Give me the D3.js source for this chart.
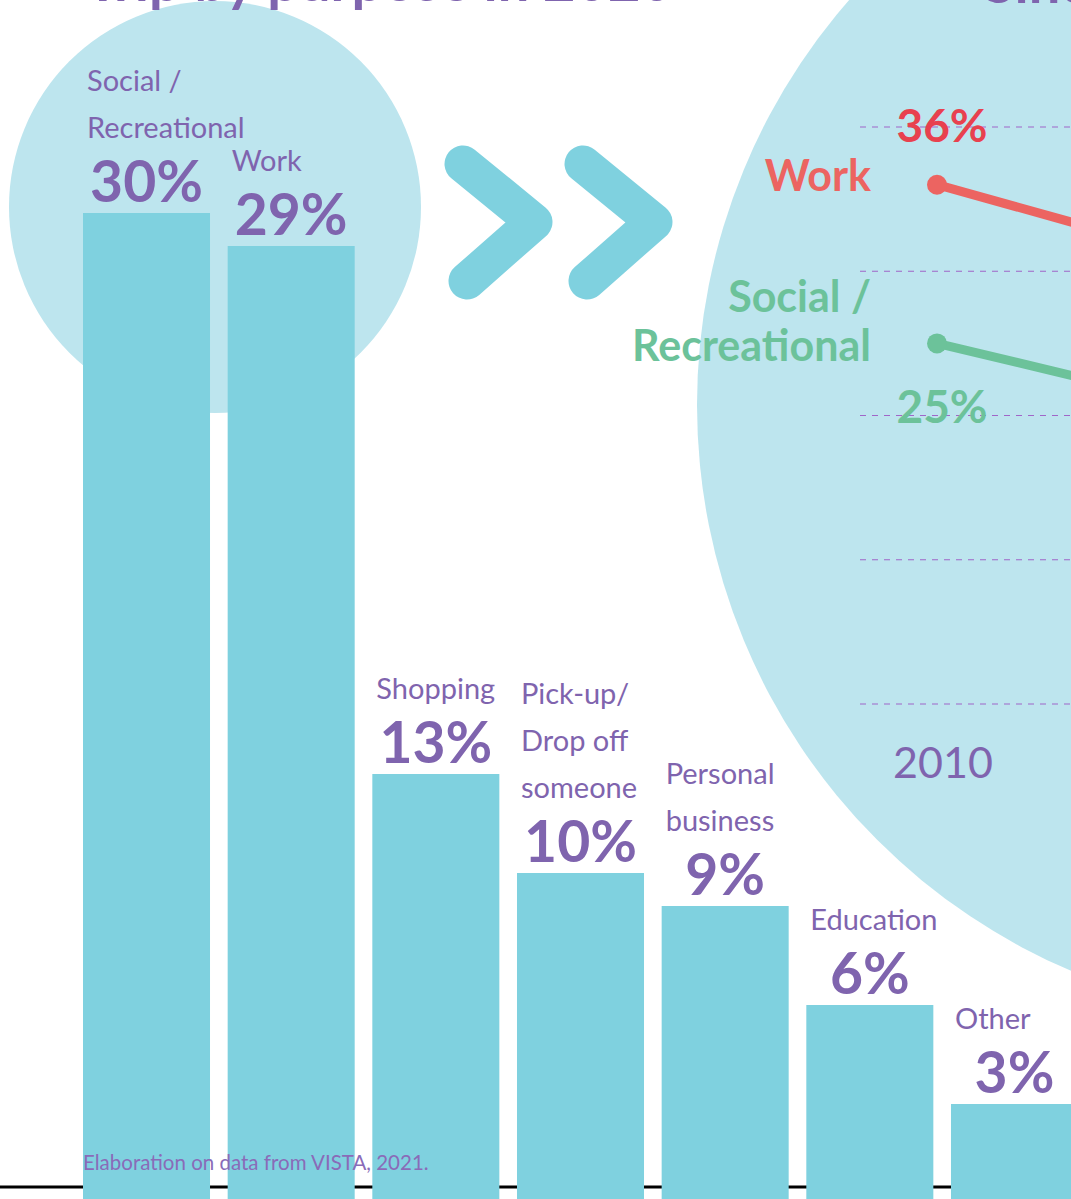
<!DOCTYPE html>
<html>
<head>
<meta charset="utf-8">
<script src="https://cdn.jsdelivr.net/npm/d3@7"></script>
<style>
  html, body { margin: 0; padding: 0; background: #fff; }
  svg { display: block; font-family: Lato, "Open Sans", sans-serif; }
</style>
</head>
<body>
<div id="chart-container"></div>
<script>
'use strict';

// trip share by purpose, 2020
const categories = ['Social / Recreational', 'Work', 'Shopping', 'Pick-up/ Drop off someone',
  'Personal business', 'Education', 'Other'];
const categoryLines = [['Social /', 'Recreational'], ['Work'], ['Shopping'],
  ['Pick-up/', 'Drop off', 'someone'], ['Personal', 'business'], ['Education'], ['Other']];
const shares = [30, 29, 13, 10, 9, 6, 3];

// change since 2010 (only the 2010 end is visible)
const years = [2010, 2020];
const trendNames = [['Work'], ['Social /', 'Recreational']];
const workTrend = [36, 29];
const socialTrend = [25, 19];
const gridTicks = [40, 30, 20, 10, 0];

const titleLeft = 'Trip by purpose in 2020';
const titleRight = 'Since 2010';
const source = 'Elaboration on data from VISTA, 2021.';

var width = 1071;
var height = 1199;
var purple = '#7f64ae';
var barColour = '#7fd1df';
var circleColour = '#bde5ee';
var red = '#ec6461';
var green = '#6cc29a';

var svg = d3.select('#chart-container')
  .append('svg')
  .attr('width', width)
  .attr('height', height);

// background circles
svg.append('circle').attr('cx', 215).attr('cy', 207).attr('r', 206).attr('fill', circleColour);
svg.append('circle').attr('cx', 1312).attr('cy', 405).attr('r', 615).attr('fill', circleColour);

// titles (mostly cut off at the top, as in the original)
svg.append('text').attr('x', 86).attr('y', 1)
  .attr('font-size', 56).attr('font-weight', 700).attr('fill', purple)
  .text(titleLeft);
svg.append('text').attr('x', 984).attr('y', 3)
  .attr('font-size', 56).attr('font-weight', 700).attr('fill', purple)
  .text(titleRight);

// ---- bar chart ----
var x = d3.scaleBand()
  .domain(categories)
  .range([83, 1078])
  .paddingInner(0.122)
  .paddingOuter(0);

var y = d3.scaleLinear()
  .domain([0, 30])
  .range([1203, 213]);

svg.append('line')
  .attr('x1', 0).attr('x2', width)
  .attr('y1', 1187).attr('y2', 1187)
  .attr('stroke', '#000').attr('stroke-width', 3);

var bars = svg.selectAll('g.bar')
  .data(categories.map((c, i) => ({ name: c, lines: categoryLines[i], value: shares[i] })))
  .enter()
  .append('g')
  .attr('class', 'bar');

bars.append('rect')
  .attr('x', d => x(d.name))
  .attr('y', d => y(d.value))
  .attr('width', x.bandwidth())
  .attr('height', d => height - y(d.value))
  .attr('fill', barColour);

bars.append('text')
  .attr('x', d => x(d.name) + x.bandwidth() / 2)
  .attr('y', d => y(d.value) - 11)
  .attr('text-anchor', 'middle')
  .attr('font-size', 57)
  .attr('font-weight', 700)
  .attr('fill', purple)
  .text(d => d.value + '%');

bars.each(function(d) {
  var n = d.lines.length;
  d3.select(this).selectAll('text.name')
    .data(d.lines)
    .enter()
    .append('text')
    .attr('class', 'name')
    .attr('x', x(d.name) + 4)
    .attr('y', (l, i) => y(d.value) - 75 - (n - 1 - i) * 47)
    .attr('font-size', 29)
    .attr('fill', purple)
    .text(l => l);
});

svg.append('text')
  .attr('x', 83).attr('y', 1170)
  .attr('font-size', 20.5)
  .attr('fill', '#8a6bb8')
  .text(source);

// chevrons
var chevron = d3.line();
[0, 120].forEach(function(dx) {
  svg.append('path')
    .attr('d', chevron([[463 + dx, 164], [534 + dx, 222], [467 + dx, 281]]))
    .attr('fill', 'none')
    .attr('stroke', barColour)
    .attr('stroke-width', 37)
    .attr('stroke-linecap', 'round')
    .attr('stroke-linejoin', 'round');
});

// ---- slope chart ----
var sx = d3.scaleLinear().domain(years).range([937, 1300]);
var sy = d3.scaleLinear().domain([0, 40]).range([704, 127]);

svg.selectAll('line.grid')
  .data(gridTicks)
  .enter()
  .append('line')
  .attr('class', 'grid')
  .attr('x1', 860).attr('x2', width)
  .attr('y1', d => sy(d)).attr('y2', d => sy(d))
  .attr('stroke', '#a066c8')
  .attr('stroke-width', 1.2)
  .attr('stroke-dasharray', '6,6');

var trends = [
  { lines: trendNames[0], values: workTrend, colour: red, numColour: '#e8414f', above: true },
  { lines: trendNames[1], values: socialTrend, colour: green, numColour: green, above: false }
];

var lineGen = d3.line()
  .x((v, i) => sx(years[i]))
  .y(v => sy(v));

trends.forEach(function(t) {
  svg.append('path')
    .attr('d', lineGen(t.values))
    .attr('fill', 'none')
    .attr('stroke', t.colour)
    .attr('stroke-width', 9)
    .attr('stroke-linecap', 'round');

  svg.append('circle')
    .attr('cx', sx(years[0]))
    .attr('cy', sy(t.values[0]))
    .attr('r', 10)
    .attr('fill', t.colour);

  var n = t.lines.length;
  t.lines.forEach(function(l, i) {
    svg.append('text')
      .attr('x', sx(years[0]) - 66)
      .attr('y', sy(t.values[0]) + 6 + (n > 1 ? 12 : 0) - (n - 1 - i) * 49)
      .attr('text-anchor', 'end')
      .attr('font-size', 43)
      .attr('font-weight', 700)
      .attr('fill', t.colour)
      .text(l);
  });

  svg.append('text')
    .attr('x', sx(years[0]) + 5)
    .attr('y', t.above ? sy(t.values[0]) - 43 : sy(t.values[0]) + 80)
    .attr('text-anchor', 'middle')
    .attr('font-size', 46)
    .attr('font-weight', 700)
    .attr('fill', t.numColour)
    .text(t.values[0] + '%');
});

svg.append('text')
  .attr('x', sx(years[0]) + 6)
  .attr('y', 778)
  .attr('text-anchor', 'middle')
  .attr('font-size', 43)
  .attr('fill', purple)
  .text(years[0]);
</script>
</body>
</html>
